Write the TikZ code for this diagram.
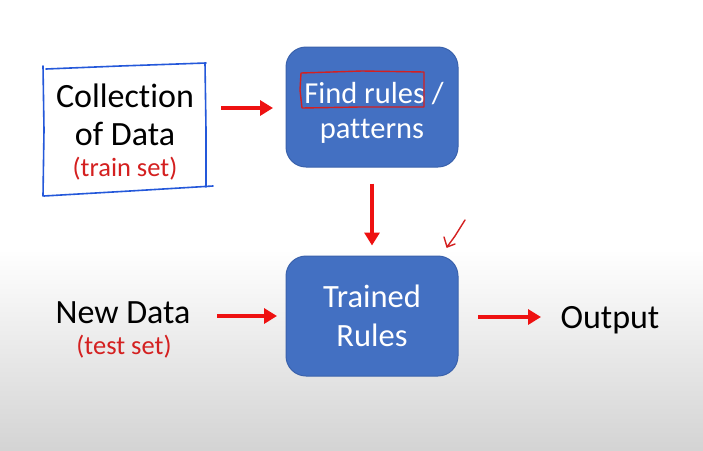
\documentclass[tikz,border=0pt]{standalone}
\usepackage{fontspec}
\setmainfont{Carlito}[Ligatures={NoCommon}, RawFeature={-liga;-clig;-calt;-dlig}]
\usetikzlibrary{arrows.meta}
\definecolor{boxblue}{HTML}{4370C2}
\definecolor{boxedge}{HTML}{3A62AC}
\definecolor{penblue}{HTML}{2458DA}
\definecolor{redarrow}{HTML}{EE1111}
\definecolor{redtext}{HTML}{D42020}
\tikzset{
  bluebox/.style={draw=boxedge, line width=1pt, fill=boxblue, rounded corners=20pt, minimum width=172pt, minimum height=120pt, text=white, align=center},
  plain/.style={align=center, text=black, font=\fontsize{34}{38}\selectfont},
  sub/.style={text=redtext, font=\fontsize{26.5}{30}\selectfont},
  redarr/.style={draw=redarrow, line width=4pt, -{Triangle[length=13pt,width=15pt]}},
  pen/.style={draw=penblue, line width=1.6pt, line cap=round, line join=round},
  redpen/.style={draw=redtext, line width=1.4pt, line cap=round, line join=round}
}
\begin{document}
\begin{tikzpicture}[x=1pt,y=-1pt]
\useasboundingbox (0,0) rectangle (703,450);
\fill[white] (0,0) rectangle (703,250);
\shade[top color=white, bottom color=black!17] (0,249) rectangle (703,450);
% nodes
\node[bluebox] (find) at (372,107) {};
\node[text=white, font=\fontsize{30.5}{37}\selectfont, anchor=base] (findtxt) at (374,103) {Find rules /};
\node[text=white, font=\fontsize{30.5}{37}\selectfont, anchor=base] (pattxt) at (372,138) {pat\kern0pt tern\kern0pt s};
\node[bluebox, font=\fontsize{32.5}{39}\selectfont] (trained) at (372,316) {Trained\\Rules};
\node[plain] (coll) at (125,115) {Collec\kern0pt tion\\of Data};
\node[sub] (train) at (125,169) {(train set)};
\node[plain] (newd) at (123,313) {New Data};
\node[sub] (test) at (124,347) {(test set)};
\node[plain, anchor=west] (out) at (557,320) {Output};
% hand-drawn marks
\draw[pen] (43,66) -- (44,130) -- (43,196);
\draw[pen] (46,69) -- (120,66) -- (206,63);
\draw[pen] (205,63) -- (206,130) -- (206,187);
\draw[pen] (44,196) -- (130,191) -- (213,186);
\draw[redpen] (301,73) -- (362,71) -- (424,72) -- (424,107) -- (360,107) -- (302,108) -- (300,90) -- (301,73);
\draw[redpen] (465,220) -- (455,236) -- (447,247) -- (444,237);
\draw[redpen] (447,247) -- (455,244);
% arrows
\coordinate (a1s) at (221,108);
\coordinate (a1e) at (273,108);
\draw[redarr] (a1s) -- (a1e);
\draw[redarr] (find.south) ++(0,16) -- ++(0,62);
\coordinate (a3s) at (217,316);
\coordinate (a3e) at (277,316);
\draw[redarr] (a3s) -- (a3e);
\coordinate (a4s) at (478,317);
\coordinate (a4e) at (541,317);
\draw[redarr] (a4s) -- (a4e);
\end{tikzpicture}
\end{document}
